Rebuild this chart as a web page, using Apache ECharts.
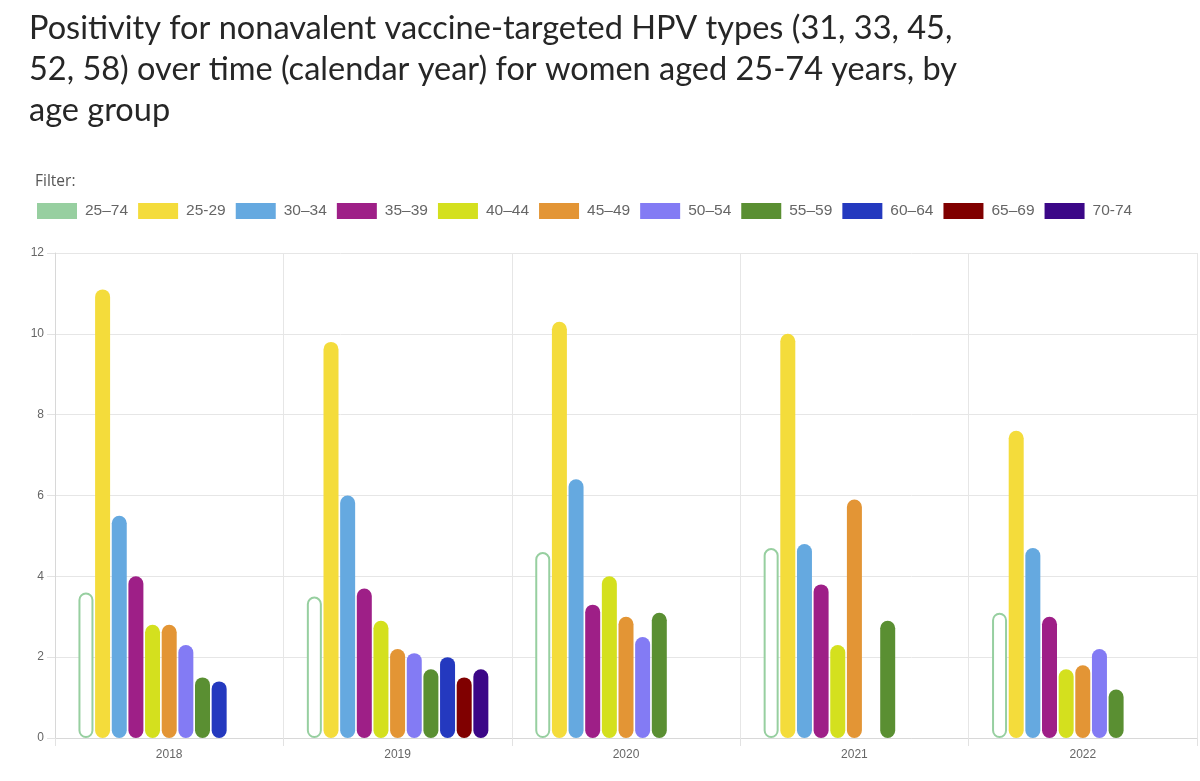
<!DOCTYPE html>
<html>
<head>
<meta charset="utf-8">
<script src="https://cdn.jsdelivr.net/npm/echarts@6/dist/echarts.min.js"></script>
<style>
html,body{margin:0;padding:0;background:#fff;}
#chart{width:1200px;height:781px;}
</style>
</head>
<body>
<div id="chart"></div>
<script>
const titleText = 'Positivity for nonavalent vaccine-targeted HPV types (31, 33, 45,\n52, 58) over time (calendar year) for women aged 25-74 years, by\nage group';
const years = ['2018', '2019', '2020', '2021', '2022'];
const groups = ['25–74', '25-29', '30–34', '35–39', '40–44', '45–49', '50–54', '55–59', '60–64', '65–69', '70-74'];
const colors = ['#97CFA0', '#F4DC3B', '#65A9E0', '#9E1F87', '#D4E01E', '#E39535', '#837BF4', '#5A8F32', '#2439BF', '#800000', '#3B0787'];

const v25_74 = [3.6, 3.5, 4.6, 4.7, 3.1];
const v25_29 = [11.1, 9.8, 10.3, 10.0, 7.6];
const v30_34 = [5.5, 6.0, 6.4, 4.8, 4.7];
const v35_39 = [4.0, 3.7, 3.3, 3.8, 3.0];
const v40_44 = [2.8, 2.9, 4.0, 2.3, 1.7];
const v45_49 = [2.8, 2.2, 3.0, 5.9, 1.8];
const v50_54 = [2.3, 2.1, 2.5, null, 2.2];
const v55_59 = [1.5, 1.7, 3.1, 2.9, 1.2];
const v60_64 = [1.4, 2.0, null, null, null];
const v65_69 = [null, 1.5, null, null, null];
const v70_74 = [null, 1.7, null, null, null];
const seriesValues = [v25_74, v25_29, v30_34, v35_39, v40_44, v45_49, v50_54, v55_59, v60_64, v65_69, v70_74];

const yTicks = {min: 0, max: 12, interval: 2};

const chart = echarts.init(document.getElementById('chart'));

const series = groups.map((name, i) => ({
  name: name,
  type: 'bar',
  barWidth: 15,
  barGap: '11%',
  data: seriesValues[i].map(v => v === null ? '-' : v),
  itemStyle: i === 0
    ? {color: '#ffffff', borderColor: colors[0], borderWidth: 2, borderRadius: 7.5}
    : {color: colors[i], borderRadius: 7.5},
  emphasis: {disabled: true}
}));

const option = {
  animation: false,
  title: [
    {
      text: titleText,
      left: 24,
      top: 3,
      textStyle: {fontFamily: 'Lato', fontSize: 32.5, fontWeight: 'normal', color: '#262626', lineHeight: 41}
    },
    {
      text: 'Filter:',
      left: 30,
      top: 169,
      textStyle: {fontFamily: 'Open Sans', fontSize: 15.5, fontWeight: 'normal', color: '#555'}
    }
  ],
  legend: {
    left: 32,
    top: 198,
    icon: 'rect',
    itemWidth: 40,
    itemHeight: 16,
    itemGap: 10,
    selectedMode: false,
    textStyle: {fontFamily: 'Liberation Sans', fontSize: 15.5, color: '#666', padding: [0, 0, 0, 3]},
    data: groups.map((g, i) => ({name: g, itemStyle: {color: colors[i], borderWidth: 0}}))
  },
  grid: {left: 55, right: 3, top: 253, bottom: 43, containLabel: false},
  xAxis: {
    type: 'category',
    data: years,
    axisLine: {show: true, lineStyle: {color: '#d8d8d8'}},
    axisTick: {show: true, length: 8, lineStyle: {color: '#e2e2e2'}},
    splitLine: {show: true, lineStyle: {color: '#e6e6e6'}},
    axisLabel: {fontFamily: 'Liberation Sans', fontSize: 12, color: '#666', margin: 11}
  },
  yAxis: {
    type: 'value',
    min: yTicks.min,
    max: yTicks.max,
    interval: yTicks.interval,
    axisLine: {show: true, lineStyle: {color: '#d8d8d8'}},
    axisTick: {show: true, length: 8, lineStyle: {color: '#e2e2e2'}},
    splitLine: {show: true, lineStyle: {color: '#e6e6e6'}},
    axisLabel: {fontFamily: 'Liberation Sans', fontSize: 12, color: '#666', margin: 11}
  },
  series: series
};
chart.setOption(option);
</script>
</body>
</html>
